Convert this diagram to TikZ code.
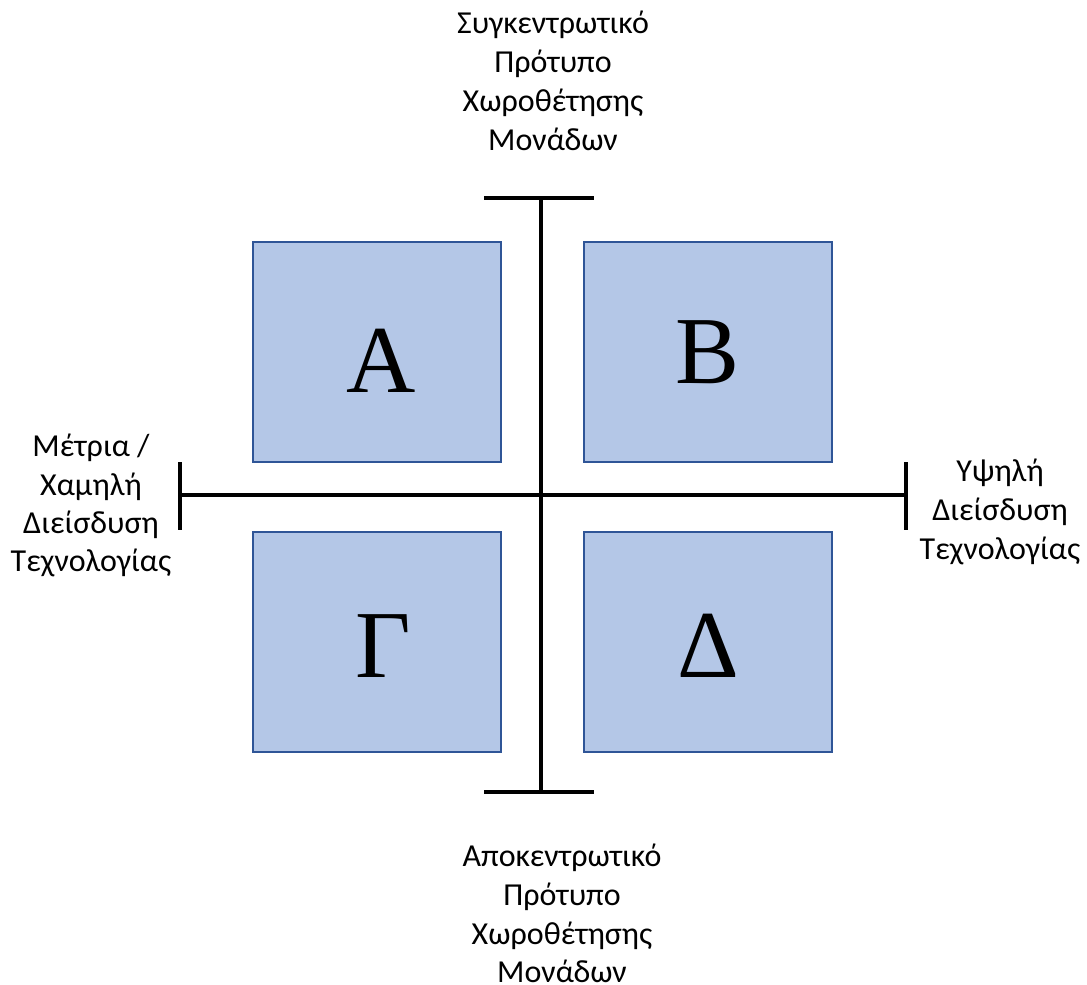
\documentclass[tikz,border=0pt]{standalone}
\usepackage{fontspec}
\setmainfont{Carlito}
\newfontfamily\letterfont{Liberation Serif}
\definecolor{boxfill}{HTML}{B4C7E7}
\definecolor{boxline}{HTML}{2F5597}
\begin{document}
\begin{tikzpicture}[x=1pt,y=-1pt,
  quad/.style={draw=boxline,line width=2pt,fill=boxfill,minimum width=248pt,minimum height=220pt,inner sep=0pt},
  letter/.style={inner sep=0pt,font=\letterfont\fontsize{96}{96}\selectfont},
  axis/.style={line width=4pt,black},
  lbl/.style={inner sep=0pt,anchor=base,font=\fontsize{32}{39}\selectfont}]
\useasboundingbox (0,0) rectangle (1087,985);
% boxes
\node[quad] (A) at (377,352) {};
\node[quad] (B) at (708,352) {};
\node[quad] (G) at (377,642) {};
\node[quad] (D) at (708,642) {};
\node[letter,anchor=base] (At) at (381,392) {A};
\node[letter,anchor=base] (Bt) at (708,383) {B};
\node[letter,anchor=base] (Gt) at (383,677) {Γ};
\node[letter,anchor=base] (Dt) at (708,677) {Δ};
% axes
\coordinate (vt) at (541,198);
\coordinate (vb) at (541,792);
\coordinate (hl) at (180,495);
\coordinate (hr) at (906,495);
\coordinate (vtl) at (484,198); \coordinate (vtr) at (594,198);
\coordinate (vbl) at (484,792); \coordinate (vbr) at (594,792);
\coordinate (hlt) at (180,462); \coordinate (hlb) at (180,530);
\coordinate (hrt) at (906,462); \coordinate (hrb) at (906,530);
\draw[axis] (vt) -- (vb);
\draw[axis] (hl) -- (hr);
\draw[axis] (vtl) -- (vtr);
\draw[axis] (vbl) -- (vbr);
\draw[axis] (hlt) -- (hlb);
\draw[axis] (hrt) -- (hrb);
% top label
\node[lbl] (t1) at (553,33) {Συγκεντρωτικό};
\node[lbl] (t2) at (553,72) {Πρότυπο};
\node[lbl] (t3) at (553,111) {Χωροθέτησης};
\node[lbl] (t4) at (553,150) {Μονάδων};
% bottom label
\node[lbl] (b1) at (562,866) {Αποκεντρωτικό};
\node[lbl] (b2) at (562,905) {Πρότυπο};
\node[lbl] (b3) at (562,944) {Χωροθέτησης};
\node[lbl] (b4) at (562,982) {Μονάδων};
% left label
\node[lbl] (l1) at (91,456) {Μέτρια /};
\node[lbl] (l2) at (91,495) {Χαμηλή};
\node[lbl] (l3) at (91,533) {Διείσδυση};
\node[lbl] (l4) at (91,571) {Τεχνολογίας};
% right label
\node[lbl] (r1) at (1000,481) {Υψηλή};
\node[lbl] (r2) at (1000,520) {Διείσδυση};
\node[lbl] (r3) at (1000,559) {Τεχνολογίας};
\end{tikzpicture}
\end{document}
